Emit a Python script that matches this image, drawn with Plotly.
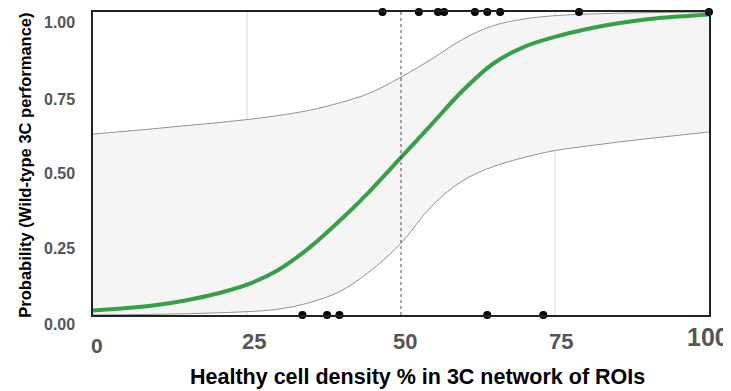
import plotly.graph_objects as go

# ---- data ----
x_fit = [0, 5, 10, 15, 20, 25, 30, 35, 40, 45, 50, 55, 60, 65, 70, 75, 80, 85, 90, 95, 100]
p_fit = [0.015, 0.022, 0.032, 0.048, 0.07, 0.10, 0.148, 0.22, 0.31, 0.41, 0.52, 0.63, 0.74,
         0.83, 0.885, 0.918, 0.943, 0.962, 0.976, 0.985, 0.992]
p_upper = [0.597, 0.606, 0.615, 0.625, 0.634, 0.645, 0.658, 0.675, 0.70, 0.733, 0.785, 0.845,
           0.91, 0.955, 0.977, 0.988, 0.993, 0.996, 0.998, 0.999, 0.9995]
p_lower = [0.0005, 0.001, 0.002, 0.004, 0.007, 0.011, 0.019, 0.04, 0.077, 0.145, 0.237, 0.36,
           0.443, 0.49, 0.52, 0.543, 0.557, 0.57, 0.582, 0.593, 0.604]

obs_pos_x = [47.0, 52.9, 56.0, 57.0, 62.0, 64.0, 66.1, 78.9, 100]
obs_pos_y = [1] * len(obs_pos_x)
obs_neg_x = [34.0, 38.0, 40.0, 64.0, 73.1]
obs_neg_y = [0] * len(obs_neg_x)

x_ticks = [0, 25, 50, 75, 100]
x_ticklabels = ["0", "25", "50", "75", "100"]
y_ticks = [0, 0.25, 0.5, 0.75, 1.0]
y_ticklabels = ["0.00", "0.25", "0.50", "0.75", "1.00"]

x_title = "Healthy cell density % in 3C network of ROIs"
y_title = "Probability (Wild-type 3C performance)"

# ---- styling (label nudges in pixels, font sizes) ----
FONT = "Liberation Sans, Arial, sans-serif"
x_label_xshift = [4, 7, 4, 6, -1]
x_label_yshift = [-30, -26, -26, -26, -22]
x_label_size = [21, 22, 22, 22, 25]
y_label_yshift = [-9, -9, -10, -12, -10]

fig = go.Figure()

# confidence band
fig.add_trace(go.Scatter(x=x_fit, y=p_lower, mode="lines", line=dict(color="#777777", width=0.8, shape="spline"),
                         hoverinfo="skip", showlegend=False))
fig.add_trace(go.Scatter(x=x_fit, y=p_upper, mode="lines", line=dict(color="#777777", width=0.8, shape="spline"),
                         fill="tonexty", fillcolor="#f5f5f5", hoverinfo="skip", showlegend=False))

# fitted curve
fig.add_trace(go.Scatter(x=x_fit, y=p_fit, mode="lines", line=dict(color="#36a047", width=4, shape="spline"),
                         showlegend=False))

# observations
fig.add_trace(go.Scatter(x=obs_pos_x, y=obs_pos_y, mode="markers", marker=dict(color="black", size=8),
                         cliponaxis=False, showlegend=False))
fig.add_trace(go.Scatter(x=obs_neg_x, y=obs_neg_y, mode="markers", marker=dict(color="black", size=8),
                         cliponaxis=False, showlegend=False))

shapes = []
for xv in [25, 75]:
    shapes.append(dict(type="line", xref="x", yref="paper", x0=xv, x1=xv, y0=0, y1=1,
                       line=dict(color="#e4e4e4", width=1.5), layer="below"))
shapes.append(dict(type="line", xref="x", yref="paper", x0=50, x1=50, y0=0, y1=1,
                   line=dict(color="#222222", width=0.8, dash="dot"), layer="above"))

annotations = [
    dict(text="<b>" + x_title + "</b>", xref="paper", yref="paper", x=0.526, y=-0.206,
         xanchor="center", yanchor="middle", showarrow=False,
         font=dict(size=21.5, color="black", family=FONT)),
    dict(text="<b>" + y_title + "</b>", xref="paper", yref="paper", x=-0.111, y=0.495,
         xanchor="center", yanchor="middle", showarrow=False, textangle=-90,
         font=dict(size=16.5, color="black", family=FONT)),
]
for i, (tv, tt) in enumerate(zip(x_ticks, x_ticklabels)):
    annotations.append(dict(text="<b>" + tt + "</b>", xref="x", yref="paper", x=tv, y=0,
                            xanchor="center", yanchor="middle", showarrow=False,
                            xshift=x_label_xshift[i], yshift=x_label_yshift[i],
                            font=dict(size=x_label_size[i], color="#555555", family=FONT)))
for i, (tv, tt) in enumerate(zip(y_ticks, y_ticklabels)):
    annotations.append(dict(text="<b>" + tt + "</b>", xref="paper", yref="y", x=-0.026, y=tv,
                            xanchor="right", yanchor="middle", showarrow=False,
                            yshift=y_label_yshift[i],
                            font=dict(size=16, color="#555555", family=FONT)))

# the page body adds an 8px offset, so the figure is 8px smaller on each side
fig.update_layout(
    width=723, height=383,
    margin=dict(l=85, r=22, t=4, b=76),
    plot_bgcolor="white", paper_bgcolor="white",
    shapes=shapes,
    font=dict(family=FONT),
    annotations=annotations,
)

fig.update_xaxes(range=[0, 100], showticklabels=False, automargin=False,
                 showgrid=False, zeroline=False, showline=True, mirror=True,
                 linecolor="#222222", linewidth=2, ticks="")
fig.update_yaxes(range=[0, 1], showticklabels=False, automargin=False,
                 showgrid=False, zeroline=False, showline=True, mirror=True,
                 linecolor="#222222", linewidth=2, ticks="")

fig.write_html("out.html")
